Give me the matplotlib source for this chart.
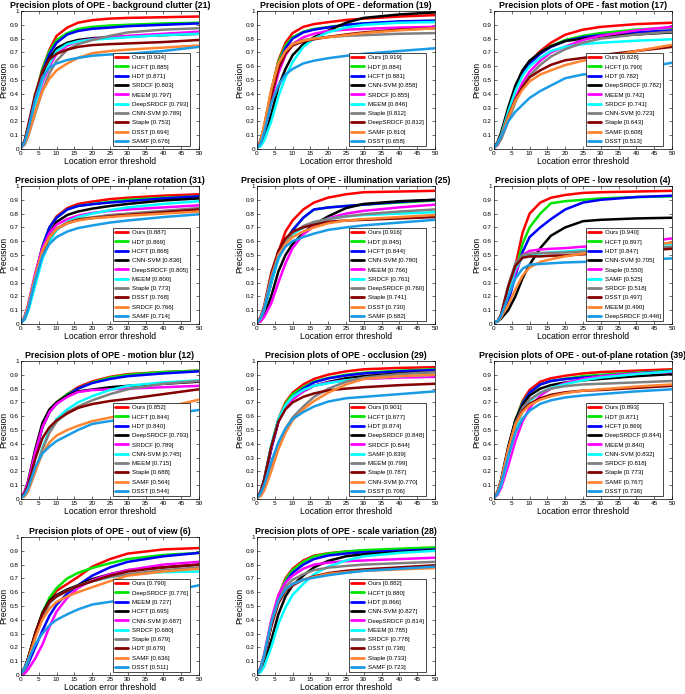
import matplotlib
matplotlib.use('Agg')
import matplotlib.pyplot as plt
from matplotlib.ticker import FuncFormatter

plt.rcParams['font.family'] = ['Liberation Sans', 'DejaVu Sans']

thresholds = [0, 1, 2, 4, 6, 8, 10, 13, 16, 20, 25, 30, 40, 50]

# rank colours (same for every panel)
COLORS = ['#ff0000', '#00e600', '#0000ff', '#000000', '#ff00ff',
          '#00ffff', '#808080', '#850000', '#ff8533', '#1a9be6']

bc_names = ['Ours [0.934]', 'HCFT [0.885]', 'HDT [0.871]', 'SRDCF [0.803]', 'MEEM [0.797]',
            'DeepSRDCF [0.793]', 'CNN-SVM [0.789]', 'Staple [0.753]', 'DSST [0.694]', 'SAMF [0.676]']
bc_prec = [
    [0.01, 0.05, 0.15, 0.38, 0.58, 0.72, 0.82, 0.88, 0.915, 0.934, 0.945, 0.95, 0.955, 0.96],
    [0.01, 0.05, 0.15, 0.38, 0.58, 0.71, 0.79, 0.84, 0.87, 0.885, 0.895, 0.9, 0.91, 0.915],
    [0.01, 0.05, 0.15, 0.37, 0.56, 0.69, 0.77, 0.83, 0.855, 0.871, 0.88, 0.89, 0.9, 0.91],
    [0.01, 0.05, 0.14, 0.36, 0.54, 0.66, 0.73, 0.77, 0.79, 0.803, 0.81, 0.815, 0.825, 0.835],
    [0.01, 0.04, 0.11, 0.3, 0.48, 0.6, 0.69, 0.75, 0.78, 0.797, 0.81, 0.82, 0.835, 0.85],
    [0.01, 0.04, 0.12, 0.32, 0.5, 0.62, 0.71, 0.76, 0.78, 0.793, 0.8, 0.81, 0.825, 0.835],
    [0.01, 0.03, 0.09, 0.26, 0.42, 0.55, 0.64, 0.72, 0.76, 0.789, 0.82, 0.845, 0.865, 0.875],
    [0.01, 0.06, 0.17, 0.4, 0.56, 0.65, 0.69, 0.72, 0.74, 0.753, 0.76, 0.765, 0.775, 0.79],
    [0.01, 0.04, 0.1, 0.27, 0.42, 0.51, 0.57, 0.62, 0.66, 0.694, 0.71, 0.72, 0.735, 0.75],
    [0.01, 0.05, 0.14, 0.36, 0.52, 0.59, 0.62, 0.645, 0.66, 0.676, 0.685, 0.69, 0.71, 0.74],
]

def_names = ['Ours [0.919]', 'HDT [0.884]', 'HCFT [0.881]', 'CNN-SVM [0.858]', 'SRDCF [0.855]',
             'MEEM [0.846]', 'Staple [0.812]', 'DeepSRDCF [0.812]', 'SAMF [0.810]', 'DSST [0.658]']
def_prec = [
    [0.01, 0.06, 0.16, 0.42, 0.64, 0.77, 0.84, 0.885, 0.905, 0.919, 0.935, 0.945, 0.96, 0.97],
    [0.01, 0.06, 0.16, 0.42, 0.63, 0.75, 0.81, 0.85, 0.87, 0.884, 0.9, 0.91, 0.92, 0.93],
    [0.01, 0.06, 0.15, 0.4, 0.61, 0.73, 0.8, 0.845, 0.865, 0.881, 0.9, 0.91, 0.925, 0.93],
    [0.01, 0.03, 0.08, 0.25, 0.45, 0.58, 0.68, 0.76, 0.81, 0.858, 0.915, 0.95, 0.975, 0.99],
    [0.01, 0.05, 0.13, 0.35, 0.55, 0.68, 0.76, 0.81, 0.835, 0.855, 0.865, 0.87, 0.88, 0.885],
    [0.01, 0.02, 0.06, 0.2, 0.38, 0.52, 0.63, 0.74, 0.8, 0.846, 0.88, 0.9, 0.915, 0.92],
    [0.01, 0.06, 0.16, 0.41, 0.6, 0.7, 0.76, 0.79, 0.8, 0.812, 0.82, 0.825, 0.835, 0.84],
    [0.01, 0.05, 0.14, 0.38, 0.58, 0.69, 0.75, 0.78, 0.795, 0.812, 0.83, 0.845, 0.865, 0.875],
    [0.01, 0.06, 0.17, 0.43, 0.62, 0.71, 0.76, 0.785, 0.8, 0.81, 0.825, 0.84, 0.86, 0.875],
    [0.01, 0.04, 0.12, 0.33, 0.46, 0.54, 0.58, 0.62, 0.64, 0.658, 0.675, 0.69, 0.71, 0.73],
]

fm_names = ['Ours [0.828]', 'HCFT [0.790]', 'HDT [0.782]', 'DeepSRDCF [0.782]', 'MEEM [0.742]',
            'SRDCF [0.741]', 'CNN-SVM [0.723]', 'Staple [0.643]', 'SAMF [0.608]', 'DSST [0.513]']
fm_prec = [
    [0.01, 0.04, 0.1, 0.27, 0.43, 0.55, 0.63, 0.71, 0.77, 0.828, 0.865, 0.885, 0.905, 0.915],
    [0.01, 0.04, 0.1, 0.27, 0.43, 0.55, 0.63, 0.7, 0.745, 0.79, 0.82, 0.84, 0.865, 0.88],
    [0.01, 0.04, 0.1, 0.27, 0.43, 0.55, 0.62, 0.69, 0.74, 0.782, 0.81, 0.825, 0.845, 0.86],
    [0.01, 0.05, 0.12, 0.3, 0.46, 0.57, 0.64, 0.7, 0.745, 0.782, 0.8, 0.815, 0.83, 0.845],
    [0.01, 0.03, 0.08, 0.22, 0.37, 0.48, 0.56, 0.64, 0.7, 0.742, 0.79, 0.82, 0.86, 0.885],
    [0.01, 0.04, 0.1, 0.27, 0.42, 0.53, 0.6, 0.66, 0.71, 0.741, 0.76, 0.77, 0.785, 0.795],
    [0.01, 0.03, 0.07, 0.2, 0.34, 0.45, 0.53, 0.61, 0.67, 0.723, 0.77, 0.8, 0.83, 0.85],
    [0.01, 0.04, 0.09, 0.24, 0.36, 0.45, 0.52, 0.57, 0.61, 0.643, 0.66, 0.68, 0.71, 0.74],
    [0.01, 0.04, 0.09, 0.23, 0.35, 0.43, 0.49, 0.54, 0.57, 0.608, 0.64, 0.66, 0.71, 0.755],
    [0.01, 0.04, 0.09, 0.2, 0.27, 0.32, 0.37, 0.42, 0.46, 0.513, 0.54, 0.55, 0.58, 0.625],
]

ipr_names = ['Ours [0.887]', 'HDT [0.869]', 'HCFT [0.868]', 'CNN-SVM [0.836]', 'DeepSRDCF [0.805]',
             'MEEM [0.800]', 'Staple [0.773]', 'DSST [0.768]', 'SRDCF [0.766]', 'SAMF [0.714]']
ipr_prec = [
    [0.01, 0.05, 0.13, 0.35, 0.56, 0.7, 0.78, 0.84, 0.87, 0.887, 0.905, 0.915, 0.93, 0.94],
    [0.01, 0.05, 0.13, 0.35, 0.56, 0.7, 0.77, 0.83, 0.855, 0.869, 0.885, 0.9, 0.915, 0.925],
    [0.01, 0.05, 0.13, 0.35, 0.56, 0.7, 0.77, 0.83, 0.855, 0.868, 0.88, 0.89, 0.91, 0.925],
    [0.01, 0.04, 0.11, 0.32, 0.52, 0.66, 0.74, 0.79, 0.815, 0.836, 0.855, 0.87, 0.895, 0.91],
    [0.01, 0.05, 0.14, 0.37, 0.55, 0.66, 0.72, 0.76, 0.785, 0.805, 0.82, 0.83, 0.845, 0.86],
    [0.01, 0.03, 0.09, 0.28, 0.47, 0.6, 0.68, 0.74, 0.775, 0.8, 0.825, 0.845, 0.87, 0.89],
    [0.01, 0.04, 0.12, 0.34, 0.52, 0.63, 0.69, 0.735, 0.76, 0.773, 0.79, 0.8, 0.82, 0.84],
    [0.01, 0.04, 0.12, 0.34, 0.52, 0.63, 0.69, 0.73, 0.755, 0.768, 0.78, 0.79, 0.81, 0.83],
    [0.01, 0.05, 0.13, 0.35, 0.53, 0.63, 0.69, 0.73, 0.75, 0.766, 0.775, 0.785, 0.8, 0.815],
    [0.01, 0.04, 0.11, 0.32, 0.49, 0.58, 0.63, 0.67, 0.695, 0.714, 0.735, 0.75, 0.775, 0.795],
]

iv_names = ['Ours [0.916]', 'HDT [0.845]', 'HCFT [0.844]', 'CNN-SVM [0.780]', 'MEEM [0.766]',
            'SRDCF [0.761]', 'DeepSRDCF [0.760]', 'Staple [0.741]', 'DSST [0.730]', 'SAMF [0.682]']
iv_prec = [
    [0.01, 0.04, 0.1, 0.3, 0.52, 0.67, 0.75, 0.83, 0.88, 0.916, 0.94, 0.955, 0.96, 0.965],
    [0.01, 0.04, 0.1, 0.3, 0.48, 0.6, 0.68, 0.77, 0.83, 0.845, 0.855, 0.865, 0.88, 0.895],
    [0.01, 0.04, 0.1, 0.3, 0.48, 0.6, 0.68, 0.77, 0.83, 0.844, 0.855, 0.865, 0.885, 0.9],
    [0.01, 0.02, 0.06, 0.2, 0.38, 0.5, 0.58, 0.66, 0.72, 0.78, 0.84, 0.87, 0.89, 0.9],
    [0.01, 0.02, 0.05, 0.15, 0.3, 0.44, 0.55, 0.65, 0.71, 0.766, 0.8, 0.82, 0.845, 0.865],
    [0.01, 0.04, 0.1, 0.3, 0.47, 0.58, 0.65, 0.7, 0.73, 0.761, 0.78, 0.79, 0.8, 0.81],
    [0.01, 0.04, 0.11, 0.33, 0.5, 0.6, 0.66, 0.71, 0.74, 0.76, 0.78, 0.795, 0.815, 0.83],
    [0.01, 0.05, 0.13, 0.37, 0.53, 0.62, 0.67, 0.7, 0.72, 0.741, 0.75, 0.755, 0.765, 0.775],
    [0.01, 0.04, 0.12, 0.34, 0.5, 0.58, 0.63, 0.67, 0.7, 0.73, 0.75, 0.76, 0.775, 0.79],
    [0.01, 0.04, 0.11, 0.32, 0.48, 0.56, 0.6, 0.63, 0.655, 0.682, 0.7, 0.715, 0.735, 0.755],
]

lr_names = ['Ours [0.940]', 'HCFT [0.897]', 'HDT [0.847]', 'CNN-SVM [0.705]', 'Staple [0.550]',
            'SAMF [0.525]', 'SRDCF [0.518]', 'DSST [0.497]', 'MEEM [0.490]', 'DeepSRDCF [0.446]']
lr_prec = [
    [0.01, 0.02, 0.05, 0.18, 0.42, 0.66, 0.8, 0.88, 0.915, 0.935, 0.95, 0.955, 0.96, 0.965],
    [0.01, 0.02, 0.05, 0.17, 0.38, 0.58, 0.7, 0.8, 0.875, 0.89, 0.9, 0.91, 0.92, 0.925],
    [0.01, 0.02, 0.05, 0.16, 0.35, 0.52, 0.63, 0.7, 0.76, 0.83, 0.88, 0.9, 0.92, 0.93],
    [0.01, 0.02, 0.04, 0.1, 0.2, 0.33, 0.43, 0.55, 0.64, 0.7, 0.745, 0.755, 0.765, 0.77],
    [0.01, 0.02, 0.06, 0.22, 0.37, 0.5, 0.53, 0.54, 0.545, 0.55, 0.56, 0.57, 0.59, 0.62],
    [0.01, 0.02, 0.06, 0.23, 0.4, 0.48, 0.5, 0.51, 0.52, 0.525, 0.535, 0.545, 0.56, 0.58],
    [0.01, 0.02, 0.07, 0.28, 0.44, 0.5, 0.51, 0.515, 0.515, 0.518, 0.525, 0.53, 0.545, 0.56],
    [0.01, 0.02, 0.07, 0.27, 0.42, 0.48, 0.49, 0.49, 0.495, 0.497, 0.505, 0.515, 0.53, 0.545],
    [0.01, 0.02, 0.05, 0.14, 0.25, 0.35, 0.41, 0.45, 0.47, 0.49, 0.51, 0.53, 0.56, 0.59],
    [0.01, 0.02, 0.06, 0.2, 0.33, 0.4, 0.43, 0.435, 0.44, 0.446, 0.45, 0.455, 0.465, 0.475],
]

mb_names = ['Ours [0.852]', 'HCFT [0.844]', 'HDT [0.840]', 'DeepSRDCF [0.793]', 'SRDCF [0.789]',
            'CNN-SVM [0.745]', 'MEEM [0.715]', 'Staple [0.688]', 'SAMF [0.564]', 'DSST [0.544]']
mb_prec = [
    [0.01, 0.04, 0.11, 0.33, 0.52, 0.63, 0.7, 0.76, 0.81, 0.852, 0.885, 0.905, 0.92, 0.93],
    [0.01, 0.04, 0.11, 0.33, 0.52, 0.63, 0.7, 0.76, 0.8, 0.844, 0.88, 0.9, 0.92, 0.93],
    [0.01, 0.04, 0.11, 0.33, 0.52, 0.63, 0.69, 0.75, 0.8, 0.84, 0.87, 0.89, 0.91, 0.925],
    [0.01, 0.05, 0.13, 0.36, 0.55, 0.65, 0.7, 0.75, 0.78, 0.793, 0.81, 0.82, 0.835, 0.85],
    [0.01, 0.05, 0.12, 0.34, 0.52, 0.63, 0.69, 0.74, 0.775, 0.789, 0.795, 0.8, 0.81, 0.82],
    [0.01, 0.02, 0.06, 0.2, 0.37, 0.5, 0.58, 0.65, 0.7, 0.745, 0.79, 0.82, 0.845, 0.86],
    [0.01, 0.02, 0.06, 0.2, 0.36, 0.48, 0.56, 0.63, 0.67, 0.715, 0.76, 0.795, 0.835, 0.855],
    [0.01, 0.04, 0.1, 0.29, 0.44, 0.52, 0.57, 0.62, 0.66, 0.688, 0.71, 0.725, 0.76, 0.795],
    [0.01, 0.02, 0.06, 0.2, 0.33, 0.41, 0.46, 0.5, 0.53, 0.564, 0.59, 0.61, 0.66, 0.72],
    [0.01, 0.03, 0.08, 0.23, 0.33, 0.38, 0.42, 0.46, 0.5, 0.544, 0.565, 0.58, 0.61, 0.645],
]

occ_names = ['Ours [0.901]', 'HCFT [0.877]', 'HDT [0.874]', 'DeepSRDCF [0.848]', 'SRDCF [0.844]',
             'SAMF [0.839]', 'MEEM [0.799]', 'Staple [0.787]', 'CNN-SVM [0.770]', 'DSST [0.706]']
occ_prec = [
    [0.01, 0.05, 0.13, 0.37, 0.58, 0.7, 0.77, 0.83, 0.87, 0.901, 0.925, 0.94, 0.95, 0.955],
    [0.01, 0.05, 0.13, 0.37, 0.57, 0.69, 0.76, 0.81, 0.85, 0.877, 0.9, 0.915, 0.93, 0.94],
    [0.01, 0.05, 0.13, 0.36, 0.56, 0.67, 0.74, 0.8, 0.845, 0.874, 0.895, 0.91, 0.925, 0.935],
    [0.01, 0.05, 0.14, 0.38, 0.57, 0.67, 0.73, 0.78, 0.82, 0.848, 0.875, 0.89, 0.91, 0.92],
    [0.01, 0.05, 0.13, 0.37, 0.56, 0.66, 0.72, 0.78, 0.82, 0.844, 0.86, 0.87, 0.88, 0.885],
    [0.01, 0.05, 0.14, 0.39, 0.58, 0.68, 0.74, 0.79, 0.82, 0.839, 0.86, 0.875, 0.89, 0.9],
    [0.01, 0.03, 0.08, 0.24, 0.4, 0.51, 0.59, 0.67, 0.74, 0.799, 0.85, 0.88, 0.905, 0.92],
    [0.01, 0.05, 0.14, 0.38, 0.56, 0.65, 0.7, 0.74, 0.765, 0.787, 0.8, 0.81, 0.825, 0.835],
    [0.01, 0.02, 0.06, 0.2, 0.36, 0.48, 0.57, 0.65, 0.71, 0.77, 0.83, 0.87, 0.89, 0.9],
    [0.01, 0.04, 0.1, 0.27, 0.41, 0.51, 0.58, 0.63, 0.67, 0.706, 0.73, 0.74, 0.76, 0.78],
]

opr_names = ['Ours [0.893]', 'HDT [0.871]', 'HCFT [0.869]', 'DeepSRDCF [0.844]', 'MEEM [0.840]',
             'CNN-SVM [0.832]', 'SRDCF [0.818]', 'Staple [0.773]', 'SAMF [0.767]', 'DSST [0.736]']
opr_prec = [
    [0.01, 0.05, 0.13, 0.36, 0.57, 0.71, 0.79, 0.85, 0.875, 0.893, 0.91, 0.92, 0.93, 0.94],
    [0.01, 0.05, 0.13, 0.36, 0.57, 0.7, 0.77, 0.83, 0.855, 0.871, 0.89, 0.9, 0.915, 0.93],
    [0.01, 0.05, 0.13, 0.36, 0.56, 0.69, 0.77, 0.83, 0.855, 0.869, 0.88, 0.89, 0.91, 0.925],
    [0.01, 0.05, 0.14, 0.38, 0.57, 0.68, 0.75, 0.8, 0.825, 0.844, 0.86, 0.87, 0.89, 0.905],
    [0.01, 0.03, 0.08, 0.24, 0.42, 0.56, 0.66, 0.75, 0.8, 0.84, 0.87, 0.89, 0.91, 0.92],
    [0.01, 0.04, 0.1, 0.3, 0.5, 0.63, 0.71, 0.77, 0.805, 0.832, 0.86, 0.88, 0.905, 0.925],
    [0.01, 0.05, 0.13, 0.35, 0.55, 0.66, 0.72, 0.77, 0.8, 0.818, 0.83, 0.835, 0.845, 0.855],
    [0.01, 0.05, 0.13, 0.36, 0.54, 0.64, 0.69, 0.73, 0.755, 0.773, 0.785, 0.79, 0.805, 0.82],
    [0.01, 0.05, 0.13, 0.36, 0.54, 0.63, 0.68, 0.72, 0.745, 0.767, 0.785, 0.795, 0.815, 0.83],
    [0.01, 0.04, 0.11, 0.31, 0.48, 0.58, 0.64, 0.69, 0.715, 0.736, 0.75, 0.76, 0.78, 0.795],
]

ov_names = ['Ours [0.790]', 'DeepSRDCF [0.776]', 'MEEM [0.727]', 'HCFT [0.695]', 'CNN-SVM [0.687]',
            'SRDCF [0.680]', 'Staple [0.679]', 'HDT [0.679]', 'SAMF [0.636]', 'DSST [0.511]']
ov_prec = [
    [0.01, 0.05, 0.12, 0.3, 0.44, 0.54, 0.61, 0.66, 0.71, 0.785, 0.84, 0.88, 0.91, 0.92],
    [0.01, 0.05, 0.12, 0.3, 0.45, 0.56, 0.63, 0.7, 0.74, 0.776, 0.81, 0.84, 0.87, 0.885],
    [0.01, 0.03, 0.08, 0.2, 0.32, 0.43, 0.51, 0.59, 0.65, 0.72, 0.78, 0.82, 0.86, 0.885],
    [0.01, 0.05, 0.12, 0.3, 0.45, 0.54, 0.58, 0.62, 0.65, 0.695, 0.73, 0.76, 0.78, 0.8],
    [0.01, 0.01, 0.04, 0.12, 0.22, 0.35, 0.46, 0.56, 0.63, 0.687, 0.73, 0.76, 0.8, 0.82],
    [0.01, 0.04, 0.1, 0.27, 0.42, 0.52, 0.57, 0.61, 0.645, 0.68, 0.71, 0.73, 0.745, 0.75],
    [0.01, 0.04, 0.1, 0.27, 0.42, 0.52, 0.57, 0.61, 0.645, 0.679, 0.71, 0.73, 0.76, 0.78],
    [0.01, 0.05, 0.12, 0.3, 0.44, 0.53, 0.57, 0.61, 0.645, 0.679, 0.72, 0.75, 0.78, 0.8],
    [0.01, 0.05, 0.11, 0.27, 0.4, 0.48, 0.53, 0.57, 0.6, 0.636, 0.68, 0.72, 0.75, 0.77],
    [0.01, 0.05, 0.11, 0.22, 0.3, 0.36, 0.4, 0.44, 0.475, 0.511, 0.53, 0.55, 0.6, 0.65],
]

sv_names = ['Ours [0.882]', 'HCFT [0.880]', 'HDT [0.866]', 'CNN-SVM [0.827]', 'DeepSRDCF [0.814]',
            'MEEM [0.785]', 'SRDCF [0.778]', 'DSST [0.738]', 'Staple [0.733]', 'SAMF [0.723]']
sv_prec = [
    [0.01, 0.05, 0.13, 0.37, 0.57, 0.7, 0.77, 0.83, 0.865, 0.882, 0.895, 0.9, 0.91, 0.92],
    [0.01, 0.05, 0.13, 0.37, 0.57, 0.69, 0.76, 0.82, 0.86, 0.88, 0.895, 0.905, 0.915, 0.925],
    [0.01, 0.05, 0.13, 0.36, 0.56, 0.67, 0.74, 0.8, 0.84, 0.866, 0.88, 0.89, 0.9, 0.91],
    [0.01, 0.03, 0.08, 0.25, 0.44, 0.57, 0.65, 0.72, 0.78, 0.827, 0.86, 0.875, 0.89, 0.905],
    [0.01, 0.05, 0.15, 0.4, 0.58, 0.67, 0.72, 0.77, 0.8, 0.814, 0.825, 0.83, 0.84, 0.85],
    [0.01, 0.02, 0.06, 0.2, 0.37, 0.49, 0.58, 0.66, 0.73, 0.785, 0.83, 0.86, 0.885, 0.9],
    [0.01, 0.05, 0.13, 0.36, 0.54, 0.64, 0.69, 0.73, 0.76, 0.778, 0.79, 0.8, 0.81, 0.82],
    [0.01, 0.05, 0.13, 0.35, 0.52, 0.61, 0.65, 0.69, 0.715, 0.738, 0.755, 0.765, 0.78, 0.795],
    [0.01, 0.05, 0.14, 0.38, 0.54, 0.62, 0.66, 0.69, 0.71, 0.733, 0.745, 0.755, 0.765, 0.775],
    [0.01, 0.05, 0.14, 0.38, 0.54, 0.62, 0.66, 0.69, 0.705, 0.723, 0.74, 0.755, 0.77, 0.785],
]

panels = [
    ('background clutter (21)', bc_names, bc_prec),
    ('deformation (19)', def_names, def_prec),
    ('fast motion (17)', fm_names, fm_prec),
    ('in-plane rotation (31)', ipr_names, ipr_prec),
    ('illumination variation (25)', iv_names, iv_prec),
    ('low resolution (4)', lr_names, lr_prec),
    ('motion blur (12)', mb_names, mb_prec),
    ('occlusion (29)', occ_names, occ_prec),
    ('out-of-plane rotation (39)', opr_names, opr_prec),
    ('out of view (6)', ov_names, ov_prec),
    ('scale variation (28)', sv_names, sv_prec),
]

W, H = 685, 694
fig = plt.figure(figsize=(W / 100, H / 100), dpi=100)

col_left = [21, 257, 494]      # axes left edge, px
row_top = [11, 186, 361, 537]  # axes top edge, px
ax_w, ax_h = 178, 138

for i, (title, names, prec) in enumerate(panels):
    r, c = divmod(i, 3)
    left = col_left[c] / W
    bottom = (H - row_top[r] - ax_h) / H
    ax = fig.add_axes([left, bottom, ax_w / W, ax_h / H])
    for k in range(len(names)):
        ax.plot(thresholds, prec[k], color=COLORS[k], lw=1.8, label=names[k],
                solid_joinstyle='round', solid_capstyle='round', zorder=2 + k)
    ax.set_xlim(0, 50)
    ax.set_ylim(0, 1)
    ax.set_xticks(range(0, 51, 5))
    ax.set_yticks([j / 10 for j in range(11)])
    ax.yaxis.set_major_formatter(FuncFormatter(lambda v, p: ('%g' % round(v, 1))))
    ax.tick_params(direction='in', length=2, width=0.4, labelsize=4.6, pad=1.5,
                   top=True, right=True)
    for s in ax.spines.values():
        s.set_linewidth(0.5)
        s.set_zorder(30)
    ax.set_title('Precision plots of OPE - ' + title, fontsize=6.3, fontweight='bold', pad=2)
    ax.set_xlabel('Location error threshold', fontsize=6.2, labelpad=1)
    ax.set_ylabel('Precision', fontsize=6.2, labelpad=1)
    # legend box anchored at a fixed spot in the lower right part of the axes
    leg = ax.legend(loc='lower left', bbox_to_anchor=(0.515, 0.02), borderaxespad=0,
                    fontsize=4.4, frameon=True, fancybox=False,
                    framealpha=1, edgecolor='black', handlelength=2.2, handletextpad=0.55,
                    labelspacing=0.66, borderpad=0.35)
    leg.set_zorder(20)
    leg.get_frame().set_linewidth(0.5)
    for line in leg.get_lines():
        line.set_linewidth(2.0)

fig.savefig('out.png', dpi=100)
